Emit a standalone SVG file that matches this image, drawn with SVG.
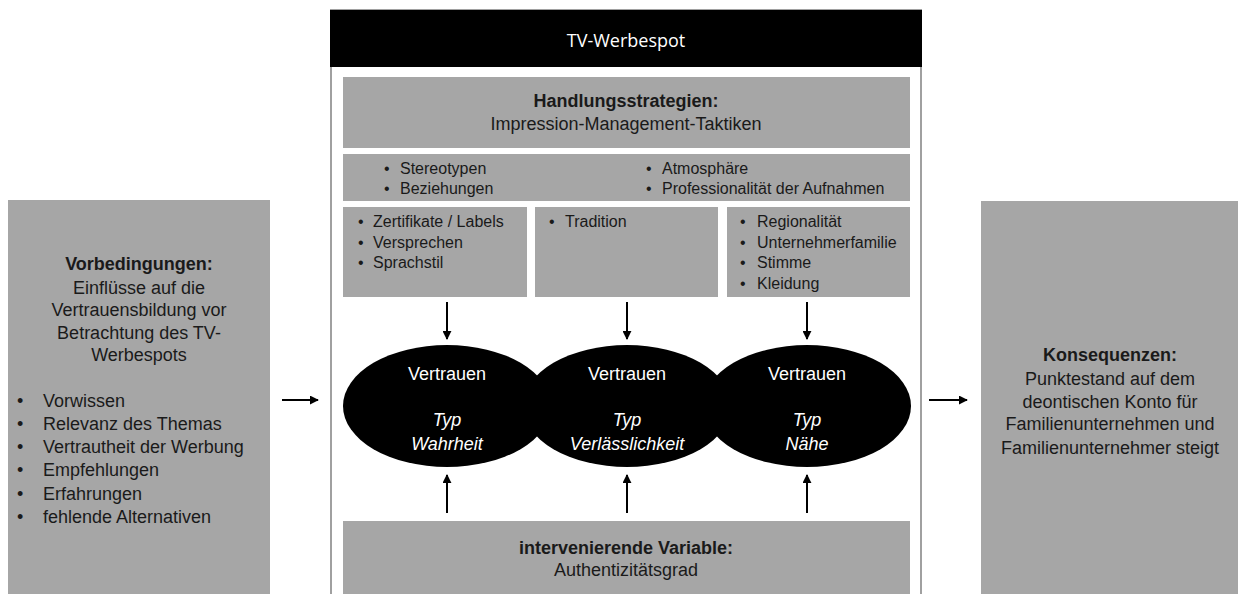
<svg xmlns="http://www.w3.org/2000/svg" width="1238" height="594" viewBox="0 0 1238 594">
<defs>
<style>
.box{fill:#a6a6a6;}
.t{font-family:"Liberation Sans",Arial,sans-serif;fill:#1a1a1a;}
.t18{font-size:18px;}
.t16{font-size:16px;}
.c{text-anchor:middle;}
.b{font-weight:bold;}
.w{fill:#ffffff;}
.i{font-style:italic;}
.arr{stroke:#000;stroke-width:2;fill:none;marker-end:url(#ah);}
</style>
<marker id="ah" viewBox="0 0 10 10" refX="9" refY="5" markerWidth="4.5" markerHeight="4.5" orient="auto" markerUnits="strokeWidth">
<path d="M0,0 L10,5 L0,10 z" fill="#000"/>
</marker>
</defs>
<rect x="0" y="0" width="1238" height="594" fill="#ffffff"/>

<g id="vorbedingungen">
<rect class="box" x="8" y="200" width="262" height="400"/>
<text class="t t18 c b" x="139" y="269.5">Vorbedingungen:</text>
<text class="t t18 c" x="139" y="293.5">Einflüsse auf die</text>
<text class="t t18 c" x="139" y="315.5">Vertrauensbildung vor</text>
<text class="t t18 c" x="139" y="338.5">Betrachtung des TV-</text>
<text class="t t18 c" x="139" y="360.5">Werbespots</text>
<text class="t t18" x="17" y="406.5">•</text><text class="t t18" x="43" y="406.5">Vorwissen</text>
<text class="t t18" x="17" y="429.5">•</text><text class="t t18" x="43" y="429.5">Relevanz des Themas</text>
<text class="t t18" x="17" y="453">•</text><text class="t t18" x="43" y="453">Vertrautheit der Werbung</text>
<text class="t t18" x="17" y="476">•</text><text class="t t18" x="43" y="476">Empfehlungen</text>
<text class="t t18" x="17" y="499.5">•</text><text class="t t18" x="43" y="499.5">Erfahrungen</text>
<text class="t t18" x="17" y="523">•</text><text class="t t18" x="43" y="523">fehlende Alternativen</text>
</g>

<g id="tv-werbespot">
<rect x="331" y="10" width="590" height="600" fill="#ffffff" stroke="#a0a0a0" stroke-width="2"/>
<rect x="330" y="10" width="592" height="57" fill="#000000"/>
<text x="626" y="46.5" font-family="'Open Sans','Liberation Sans',sans-serif" font-size="18" fill="#ffffff" text-anchor="middle">TV-Werbespot</text>
</g>

<g id="handlungsstrategien">
<rect class="box" x="343" y="77" width="567" height="71"/>
<text class="t t18 c b" x="626" y="107">Handlungsstrategien:</text>
<text class="t t18 c" x="626" y="130">Impression-Management-Taktiken</text>
</g>

<g id="taktiken-allgemein">
<rect class="box" x="343" y="154" width="567" height="47"/>
<text class="t t16" x="384" y="173.5">•</text><text class="t t16" x="400" y="173.5">Stereotypen</text>
<text class="t t16" x="384" y="194">•</text><text class="t t16" x="400" y="194">Beziehungen</text>
<text class="t t16" x="646" y="173.5">•</text><text class="t t16" x="662" y="173.5">Atmosphäre</text>
<text class="t t16" x="646" y="194">•</text><text class="t t16" x="662" y="194">Professionalität der Aufnahmen</text>
</g>

<g id="taktiken-wahrheit">
<rect class="box" x="343" y="207" width="184" height="90"/>
<text class="t t16" x="358" y="226.5">•</text><text class="t t16" x="373" y="226.5">Zertifikate / Labels</text>
<text class="t t16" x="358" y="247.5">•</text><text class="t t16" x="373" y="247.5">Versprechen</text>
<text class="t t16" x="358" y="267.5">•</text><text class="t t16" x="373" y="267.5">Sprachstil</text>
</g>

<g id="taktiken-verlaesslichkeit">
<rect class="box" x="535" y="207" width="183" height="90"/>
<text class="t t16" x="549" y="226.5">•</text><text class="t t16" x="565" y="226.5">Tradition</text>
</g>

<g id="taktiken-naehe">
<rect class="box" x="727" y="207" width="183" height="90"/>
<text class="t t16" x="740" y="226.5">•</text><text class="t t16" x="757" y="226.5">Regionalität</text>
<text class="t t16" x="740" y="247.5">•</text><text class="t t16" x="757" y="247.5">Unternehmerfamilie</text>
<text class="t t16" x="740" y="267.5">•</text><text class="t t16" x="757" y="267.5">Stimme</text>
<text class="t t16" x="740" y="288.5">•</text><text class="t t16" x="757" y="288.5">Kleidung</text>
</g>

<g id="vertrauen-wahrheit">
<ellipse cx="447" cy="406" rx="104" ry="61" fill="#000"/>
</g>
<g id="vertrauen-verlaesslichkeit">
<ellipse cx="627" cy="406" rx="104" ry="61" fill="#000"/>
</g>
<g id="vertrauen-naehe">
<ellipse cx="807" cy="406" rx="104" ry="61" fill="#000"/>
</g>
<g id="vertrauen-labels">
<text class="t t18 c w" x="447" y="379.5">Vertrauen</text>
<text class="t t18 c w i" x="447" y="425.5">Typ</text>
<text class="t t18 c w i" x="447" y="449.5">Wahrheit</text>
<text class="t t18 c w" x="627" y="379.5">Vertrauen</text>
<text class="t t18 c w i" x="627" y="425.5">Typ</text>
<text class="t t18 c w i" x="627" y="449.5">Verlässlichkeit</text>
<text class="t t18 c w" x="807" y="379.5">Vertrauen</text>
<text class="t t18 c w i" x="807" y="425.5">Typ</text>
<text class="t t18 c w i" x="807" y="449.5">Nähe</text>
</g>

<g id="intervenierende-variable">
<rect class="box" x="343" y="521" width="567" height="80"/>
<text class="t t18 c b" x="626" y="553.5">intervenierende Variable:</text>
<text class="t t18 c" x="626" y="575.5">Authentizitätsgrad</text>
</g>

<g id="konsequenzen">
<rect class="box" x="981" y="201" width="260" height="400"/>
<text class="t t18 c b" x="1110" y="360.5">Konsequenzen:</text>
<text class="t t18 c" x="1110" y="384.5">Punktestand auf dem</text>
<text class="t t18 c" x="1110" y="407.5">deontischen Konto für</text>
<text class="t t18 c" x="1110" y="429.5">Familienunternehmen und</text>
<text class="t t18 c" x="1110" y="453.5">Familienunternehmer steigt</text>
</g>

<g id="connectors">
<line class="arr" x1="447" y1="302" x2="447" y2="339"/>
<line class="arr" x1="627" y1="302" x2="627" y2="339"/>
<line class="arr" x1="807" y1="302" x2="807" y2="339"/>
<line class="arr" x1="447" y1="513" x2="447" y2="475"/>
<line class="arr" x1="627" y1="513" x2="627" y2="475"/>
<line class="arr" x1="807" y1="513" x2="807" y2="475"/>
<line class="arr" x1="282" y1="400" x2="318" y2="400"/>
<line class="arr" x1="929" y1="400" x2="967" y2="400"/>
</g>
</svg>
